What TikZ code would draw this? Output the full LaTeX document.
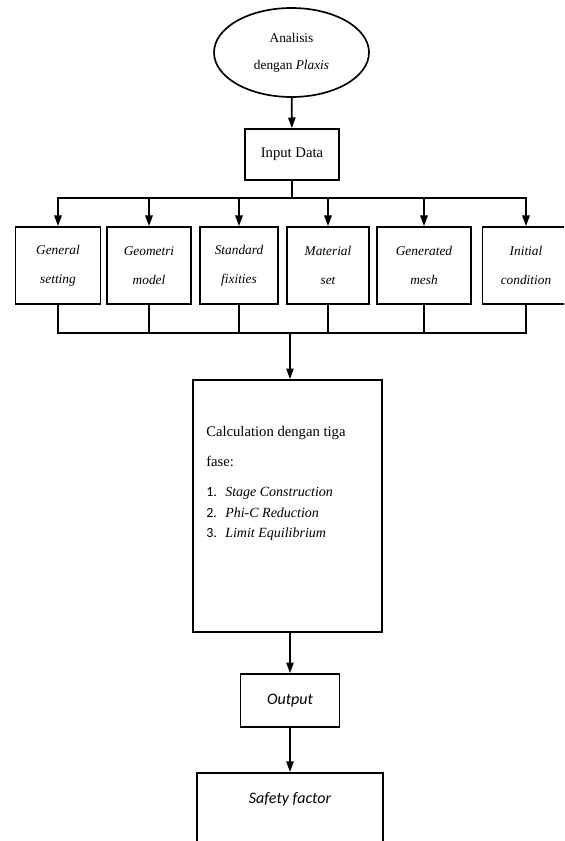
\documentclass[tikz,border=0pt]{standalone}
\usepackage{fontspec}
\setmainfont{Liberation Serif}
\newfontfamily\calibri{Carlito}
\usetikzlibrary{shapes.geometric,arrows.meta}

\tikzset{
  box/.style={draw, line width=1.25pt, inner sep=0pt, align=center},
  smallbox/.style={box, minimum height=57.75pt, font=\fontsize{10}{21.75}\selectfont\itshape},
  link/.style={line width=1.25pt},
  arr/.style={link, -{Triangle[length=8pt,width=5.5pt]}}
}

\begin{document}
\begin{tikzpicture}[x=0.75pt, y=-0.75pt]
    \useasboundingbox (0,0) rectangle (564,841);
    \clip (0,0) rectangle (564,841);

    % Start
    \node[box, ellipse, minimum width=116.25pt, minimum height=66.75pt,
          font=\fontsize{10}{20.25}\selectfont] (start) at (291.5,52.5) {Analisis\\dengan \textit{Plaxis}};
    \node[box, minimum width=70.5pt, minimum height=38.25pt,
          font=\fontsize{11}{13}\selectfont] (input) at (292,154.5) {Input Data};

    % Input steps
    \node[smallbox, minimum width=63.75pt] (general) at (58,265.5) {General\\setting};
    \node[smallbox, minimum width=63pt] (geometri) at (149,265.5) {Geometri\\model};
    \node[smallbox, minimum width=58.5pt] (fixities) at (239,265.5) {Standard\\fixities};
    \node[smallbox, minimum width=61.5pt] (material) at (328,265.5) {Material\\set};
    \node[smallbox, minimum width=70.9pt] (mesh) at (424,265.5) {Generated\\mesh};
    \node[smallbox, minimum width=65.25pt] (initial) at (526,265.5) {Initial\\condition};

    % Calculation
    \node[box, minimum width=141.75pt, minimum height=189pt] (calc) at (287.5,506) {};
    \node[anchor=north west, align=left, inner sep=0pt,
          font=\fontsize{11}{22.5}\selectfont] (calctext) at (206,426) {Calculation dengan tiga\\fase:};
    \node[anchor=north west, align=left, inner sep=0pt,
          font=\fontsize{10.5}{15.4}\selectfont] (calclist) at (206,487) {%
      \makebox[14.25pt][l]{\calibri 1.}\textit{Stage Construction}\\
      \makebox[14.25pt][l]{\calibri 2.}\textit{Phi-C Reduction}\\
      \makebox[14.25pt][l]{\calibri 3.}\textit{Limit Equilibrium}};

    % Results
    \node[box, minimum width=74.25pt, minimum height=39.75pt,
          font=\calibri\fontsize{12}{14}\selectfont\itshape] (output) at (290,700.5) {Output};
    \node[box, anchor=north, minimum width=139.5pt, minimum height=90pt] (safety) at (290,772) {};
    \node[font=\calibri\fontsize{12}{14}\selectfont\itshape] (safetytext) at (290,799) {Safety factor};

    % Connectors
    \coordinate (splitA) at (292,198);
    \coordinate (splitB) at (290,333);
    \draw[arr] (start) -- (input);
    \draw[link] (input) -- (splitA);
    \draw[arr] (splitA) -| (general.north);
    \draw[arr] (splitA) -| (geometri.north);
    \draw[arr] (splitA) -| (fixities.north);
    \draw[arr] (splitA) -| (material.north);
    \draw[arr] (splitA) -| (mesh.north);
    \draw[arr] (splitA) -| (initial.north);

    \draw[link] (general.south) |- (splitB);
    \draw[link] (geometri.south) |- (splitB);
    \draw[link] (fixities.south) |- (splitB);
    \draw[link] (material.south) |- (splitB);
    \draw[link] (mesh.south) |- (splitB);
    \draw[link] (initial.south) |- (splitB);
    \draw[arr] (splitB) -- (splitB |- calc.north);

    \draw[arr] (calc.south -| output.north) -- (output);
    \draw[arr] (output) -- (safety);

\end{tikzpicture}
\end{document}
